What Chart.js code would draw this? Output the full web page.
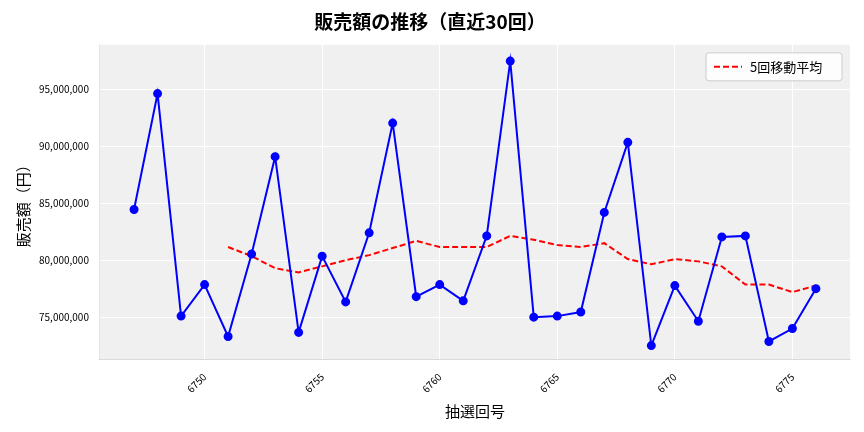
<!DOCTYPE html>
<html><head><meta charset="utf-8">
<script src="https://cdn.jsdelivr.net/npm/chart.js@4/dist/chart.umd.min.js"></script>
<style>body{margin:0;background:#fff}#wrap{width:864px;height:432px}</style>
</head><body><div id="wrap"><canvas id="c"></canvas></div>
<script>
const rounds = [6747,6748,6749,6750,6751,6752,6753,6754,6755,6756,6757,6758,6759,6760,6761,6762,6763,6764,6765,6766,6767,6768,6769,6770,6771,6772,6773,6774,6775,6776];
const sales = [84.46,94.64,75.09,77.86,73.3,80.54,89.1,73.66,80.36,76.34,82.41,92.05,76.8,77.86,76.43,82.14,97.5,75.0,75.09,75.45,84.2,90.36,72.5,77.77,74.64,82.05,82.14,72.86,74.0,77.5];
const maRounds = rounds.slice(4);
const ma5 = [81.16,80.36,79.3,78.93,79.46,80.0,80.45,81.07,81.7,81.16,81.16,81.16,82.14,81.8,81.34,81.16,81.5,80.1,79.64,80.1,79.9,79.46,77.86,77.86,77.2,77.77];
const yTicks = [75e6,80e6,85e6,90e6,95e6];
const xTicks = [6750,6755,6760,6765,6770,6775];

const F = "'Noto Sans CJK JP','DejaVu Sans'";
const bg = {id:"bg",beforeDraw(ch){const a=ch.chartArea,x=ch.ctx;x.save();x.fillStyle="#f0f0f0";x.fillRect(a.left,a.top,a.right-a.left,a.bottom-a.top);x.restore();}};
const legendBox = {id:"legendBox",afterDraw(ch){
  const a=ch.chartArea,x=ch.ctx;x.save();
  const w=136,h=28,l=a.right-w-8,t=a.top+8;
  x.fillStyle="rgba(255,255,255,0.85)";x.strokeStyle="#cccccc";x.lineWidth=1;
  x.beginPath();x.roundRect(l,t,w,h,3);x.fill();x.stroke();
  x.strokeStyle="#ff0000";x.lineWidth=2;x.setLineDash([6,3]);
  x.beginPath();x.moveTo(l+8,t+h/2);x.lineTo(l+36,t+h/2);x.stroke();
  x.setLineDash([]);x.fillStyle="#000";x.font="13px "+F;x.textBaseline="middle";
  x.fillText(ch.data.datasets[1].label,l+44,t+h/2);x.restore();}};

new Chart(document.getElementById("c"), {
  type: "line",
  data: { datasets: [
    { label: "売上", data: rounds.map((r,i)=>({x:r,y:sales[i]*1e6})), borderColor:"#0000ff", backgroundColor:"#0000ff", borderWidth:2, pointRadius:3.5, tension:0 },
    { label: "5回移動平均", data: maRounds.map((r,i)=>({x:r,y:ma5[i]*1e6})), borderColor:"#ff0000", backgroundColor:"#ff0000", borderWidth:2, borderDash:[6,3], pointRadius:0, tension:0 }
  ]},
  options: {
    responsive:true, maintainAspectRatio:false, animation:false,
    layout:{padding:{left:10,right:14,top:4,bottom:8}},
    plugins:{
      title:{display:true,text:"販売額の推移（直近30回）",font:{family:F,size:19,weight:"bold"},color:"#000",padding:{top:6,bottom:12}},
      legend:{display:false}
    },
    scales:{
      x:{type:"linear",min:6745.55,max:6777.45,
        afterBuildTicks:s=>{s.ticks=xTicks.map(v=>({value:v}));},
        ticks:{maxRotation:45,minRotation:45,font:{family:F,size:10},color:"#000",callback:v=>String(v)},
        grid:{color:"#ffffff"},
        title:{display:true,text:"抽選回号",font:{family:F,size:15},color:"#000"}},
      y:{min:71.25e6,max:98.93e6,
        afterBuildTicks:s=>{s.ticks=yTicks.map(v=>({value:v}));},
        ticks:{font:{family:F,size:10},color:"#000",callback:v=>v.toLocaleString("en-US")},
        grid:{color:"#ffffff"},
        title:{display:true,text:"販売額（円）",font:{family:F,size:15},color:"#000"}}
    }
  },
  plugins:[bg,legendBox]
});
</script></body></html>
